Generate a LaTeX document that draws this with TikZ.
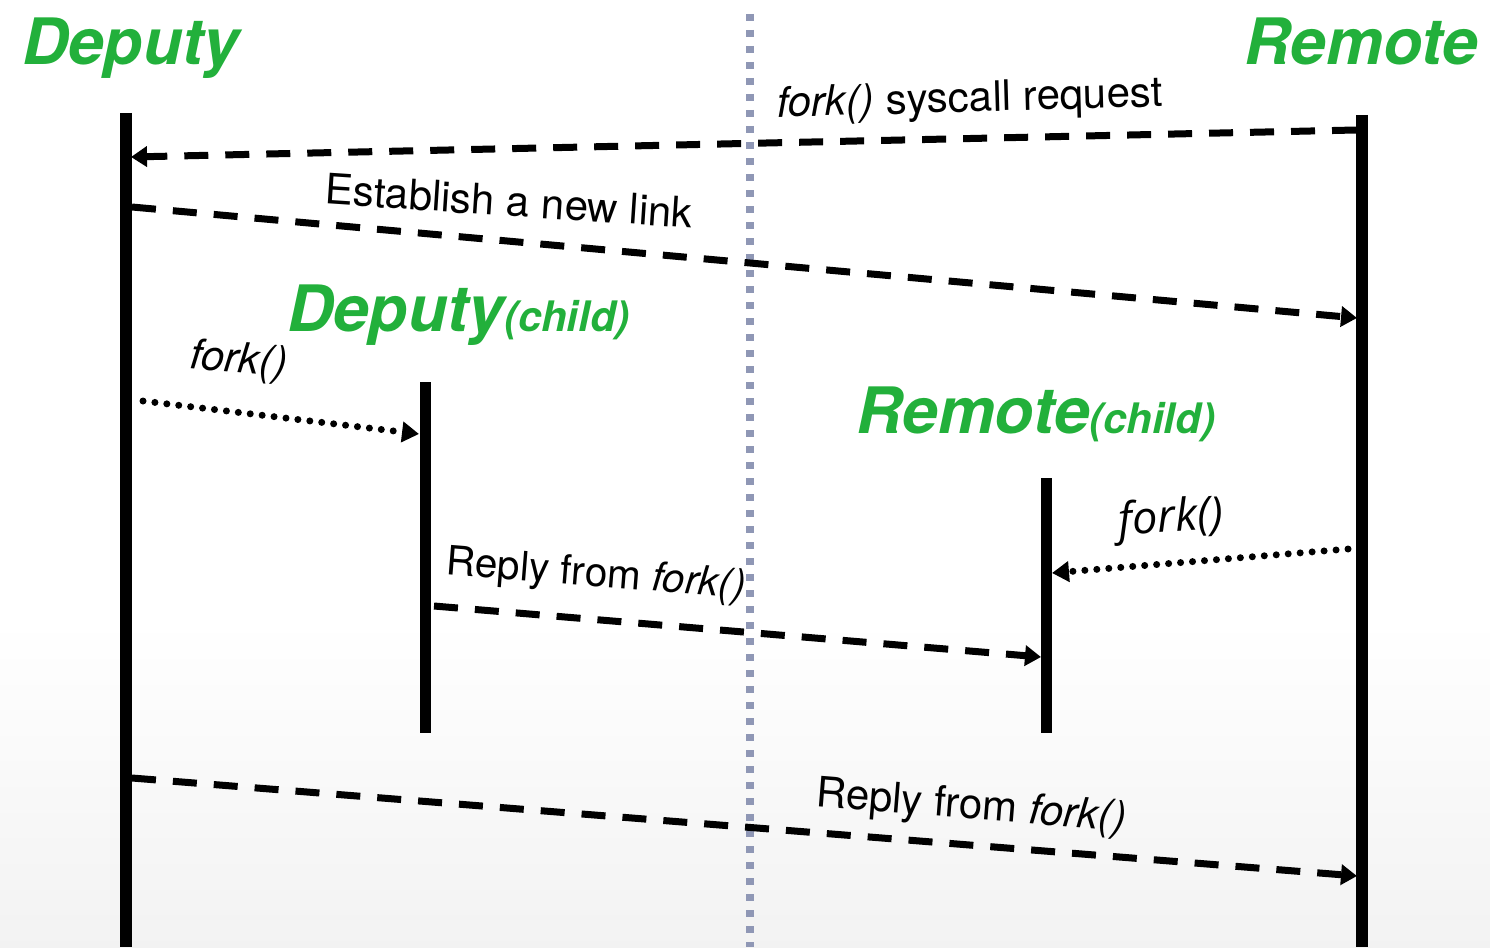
\documentclass[tikz,border=0pt]{standalone}
\usepackage{fontspec}
\setmainfont{TeX Gyre Heros}
\newfontfamily\opensans{Open Sans}
\usetikzlibrary{arrows.meta}
\definecolor{dgreen}{HTML}{22B03B}
\definecolor{divcol}{HTML}{8F97B5}
\begin{document}
\begin{tikzpicture}[x=1pt,y=-1pt,
  lifeline/.style={line width=12pt},
  childline/.style={line width=11pt},
  msgdash/.style={line width=7pt,dash pattern=on 24pt off 17pt,-{Triangle[length=16pt,width=20pt]}},
  msgdot/.style={line width=7pt,line cap=round,dash pattern=on 0pt off 12pt,-{Triangle[length=17pt,width=20pt,line cap=butt]}},
  title/.style={inner sep=0pt,text=dgreen,font=\bfseries\itshape\fontsize{64}{70}\selectfont},
  lbl/.style={inner sep=0pt,font=\fontsize{42}{48}\selectfont},
]
\useasboundingbox (0,0) rectangle (1490,947);
\fill[white] (0,0) rectangle (1490,947);
\shade[top color=white,bottom color=black!5] (0,620) rectangle (1490,947);

% divider
\coordinate (divtop) at (750,14);
\coordinate (divbot) at (750,947);
\draw[divcol,line width=7.5pt,dash pattern=on 7pt off 9pt] (divtop) -- (divbot);

% titles
\node[title,anchor=base west] (deptitle) at (22,65) {Deputy};
\node[title,anchor=base east] (remtitle) at (1478,65) {Remote};
\node[title,anchor=base west] (dchtitle) at (287,331) {Deputy{\fontsize{42}{48}\selectfont(child)}};
\node[title,anchor=base west] (rchtitle) at (856,433) {Remote{\fontsize{42}{48}\selectfont(child)}};

% lifelines
\coordinate (deptop) at (125.5,113);
\coordinate (depbot) at (125.5,947);
\coordinate (remtop) at (1362,115);
\coordinate (rembot) at (1362,947);
\coordinate (dchtop) at (425.5,382);
\coordinate (dchbot) at (425.5,733);
\coordinate (rchtop) at (1046.5,478);
\coordinate (rchbot) at (1046.5,733);
\draw[lifeline] (deptop) -- (depbot);
\draw[lifeline] (remtop) -- (rembot);
\draw[childline] (dchtop) -- (dchbot);
\draw[childline] (rchtop) -- (rchbot);

% messages
\coordinate (m1s) at (1356,130);
\coordinate (m1e) at (131,157);
\draw[msgdash] (m1s) -- (m1e);
\node[lbl,rotate=1.6] (m1l) at (970,101) {\textit{fork()} syscall request};

\coordinate (m2s) at (132,207);
\coordinate (m2e) at (1357,318);
\draw[msgdash] (m2s) -- (m2e);
\node[lbl,rotate=-3.8] (m2l) at (509,201) {Establish a new link};

\coordinate (m3s) at (143,401);
\coordinate (m3e) at (419,434);
\draw[msgdot] (m3s) -- (m3e);
\node[lbl,rotate=-5] (m3l) at (239,362) {\textit{fork()}};

\coordinate (m4s) at (1348,549);
\coordinate (m4e) at (1052,573);
\draw[msgdot] (m4s) -- (m4e);
\node[inner sep=0pt,rotate=4,font=\opensans\itshape\fontsize{45}{50}\selectfont] (m4l) at (1171,520) {fork()};

\coordinate (m5s) at (434,606);
\coordinate (m5e) at (1041,657);
\draw[msgdash] (m5s) -- (m5e);
\node[lbl,rotate=-4.6,font=\fontsize{40.5}{46}\selectfont] (m5l) at (596,576) {Reply from \textit{fork()}};

\coordinate (m6s) at (132,778);
\coordinate (m6e) at (1357,876);
\draw[msgdash] (m6s) -- (m6e);
\node[lbl,rotate=-4.6] (m6l) at (971,808) {Reply from \textit{fork()}};
\end{tikzpicture}
\end{document}
